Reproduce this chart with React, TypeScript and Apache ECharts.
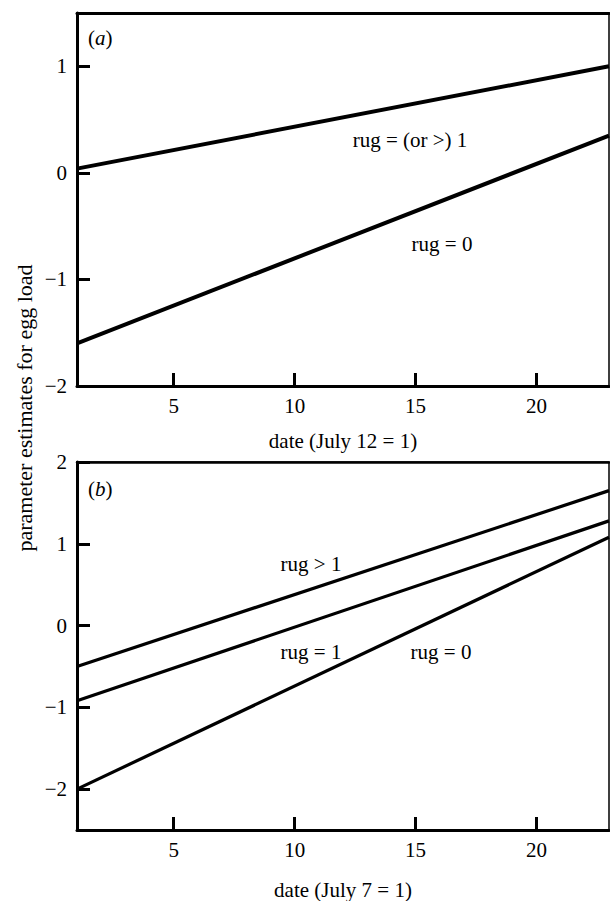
import React, { useEffect, useRef } from "react";
import * as echarts from "echarts";

// ---- data ----
const days: number[] = [1, 23];
const aRugOne: number[] = [0.04, 1.0]; // rug = (or >) 1, panel a
const aRugZero: number[] = [-1.6, 0.35]; // rug = 0, panel a
const bRugMore: number[] = [-0.5, 1.65]; // rug > 1, panel b
const bRugOne: number[] = [-0.92, 1.28]; // rug = 1, panel b
const bRugZero: number[] = [-2.0, 1.08]; // rug = 0, panel b

const xTicks: number[] = [5, 10, 15, 20];
const yTicksA: number[] = [-2, -1, 0, 1];
const yTicksB: number[] = [-2, -1, 0, 1, 2];

const xTitleA = "date (July 12 = 1)";
const xTitleB = "date (July 7 = 1)";
const yTitle = "parameter estimates for egg load";

const FONT = "Liberation Serif";
const FS = 21;

const fmt = (v: number) => (v < 0 ? "\u2212" + Math.abs(v) : String(v));
const pairs = (xs: number[], ys: number[]) => xs.map((x, i) => [x, ys[i]]);

function xAxisMain(gridIndex: number, name: string, nameGap: number) {
  return {
    type: "value",
    gridIndex,
    min: 1,
    max: 23,
    position: "bottom",
    name,
    nameLocation: "middle",
    nameGap,
    nameTextStyle: { fontFamily: FONT, fontSize: FS, color: "#000" },
    axisLine: { show: true, onZero: false, lineStyle: { color: "#000", width: 3 } },
    axisTick: {
      show: true,
      inside: true,
      length: 13,
      customValues: xTicks,
      lineStyle: { color: "#000", width: 3 },
    },
    axisLabel: {
      show: true,
      customValues: xTicks,
      margin: 9,
      fontFamily: FONT,
      fontSize: FS,
      color: "#000",
      formatter: (v: number) => fmt(v),
    },
    splitLine: { show: false },
  };
}

function xAxisTop(gridIndex: number, width: number) {
  return {
    type: "value",
    gridIndex,
    min: 1,
    max: 23,
    position: "top",
    axisLine: { show: true, onZero: false, lineStyle: { color: "#000", width } },
    axisTick: { show: false },
    axisLabel: { show: false },
    splitLine: { show: false },
  };
}

function yAxisMain(gridIndex: number, min: number, max: number, ticks: number[]) {
  return {
    type: "value",
    gridIndex,
    min,
    max,
    position: "left",
    axisLine: { show: true, onZero: false, lineStyle: { color: "#000", width: 3 } },
    axisTick: {
      show: true,
      inside: true,
      length: 13,
      customValues: ticks,
      lineStyle: { color: "#000", width: 3 },
    },
    axisLabel: {
      show: true,
      customValues: ticks,
      margin: 10,
      fontFamily: FONT,
      fontSize: FS,
      color: "#000",
      formatter: (v: number) => fmt(v),
    },
    splitLine: { show: false },
  };
}

function lineSeries(xi: number, yi: number, ys: number[], width: number) {
  return {
    type: "line",
    xAxisIndex: xi,
    yAxisIndex: yi,
    data: pairs(days, ys),
    symbol: "none",
    lineStyle: { color: "#000", width },
    silent: true,
  };
}

function annot(text: string, x: number, y: number) {
  return {
    type: "text",
    x,
    y,
    style: {
      text,
      fontFamily: FONT,
      fontSize: FS,
      fill: "#000",
      align: "center",
      verticalAlign: "middle",
    },
  };
}

function panelTag(letter: string, x: number, y: number) {
  return {
    type: "text",
    x,
    y,
    style: {
      text: "(" + "{i|" + letter + "})",
      rich: {
        i: { fontFamily: FONT, fontSize: FS, fontStyle: "italic", fill: "#000" },
      },
      fontFamily: FONT,
      fontSize: FS,
      fill: "#000",
      align: "left",
      verticalAlign: "middle",
    },
  };
}

export default function App() {
  const ref = useRef<HTMLDivElement>(null);

  useEffect(() => {
    if (!ref.current) return;
    const chart = echarts.init(ref.current, null, { renderer: "svg" });
    chart.setOption({
      animation: false,
      backgroundColor: "#fff",
      grid: [
        { left: 77, top: 13, width: 532, height: 373, show: true, borderColor: "#000", borderWidth: 1.5, backgroundColor: "transparent" },
        { left: 77, top: 462, width: 532, height: 375, show: true, borderColor: "#000", borderWidth: 1.5, backgroundColor: "transparent" },
      ],
      xAxis: [
        xAxisMain(0, xTitleA, 44),
        xAxisMain(1, xTitleB, 49),
        xAxisTop(0, 3),
        xAxisTop(1, 2.5),
      ],
      yAxis: [yAxisMain(0, -2, 1.5, yTicksA), yAxisMain(1, -2.5, 2, yTicksB)],
      series: [
        lineSeries(0, 0, aRugOne, 4),
        lineSeries(0, 0, aRugZero, 4),
        lineSeries(1, 1, bRugMore, 3.2),
        lineSeries(1, 1, bRugOne, 3.2),
        lineSeries(1, 1, bRugZero, 3.2),
      ],
      graphic: [
        panelTag("a", 88, 38),
        panelTag("b", 88, 489),
        annot("rug = (or >) 1", 410, 140),
        annot("rug = 0", 442, 244),
        annot("rug > 1", 311, 564),
        annot("rug = 1", 311, 652),
        annot("rug = 0", 441, 652),
        {
          type: "text",
          x: 24,
          y: 408,
          rotation: Math.PI / 2,
          style: {
            text: yTitle,
            fontFamily: FONT,
            fontSize: 22,
            fill: "#000",
            align: "center",
            verticalAlign: "middle",
          },
        },
      ],
    });
    return () => chart.dispose();
  }, []);

  return (
    <div
      ref={ref}
      style={{ position: "absolute", left: 0, top: 0, width: 610, height: 901, background: "#fff" }}
    />
  );
}
